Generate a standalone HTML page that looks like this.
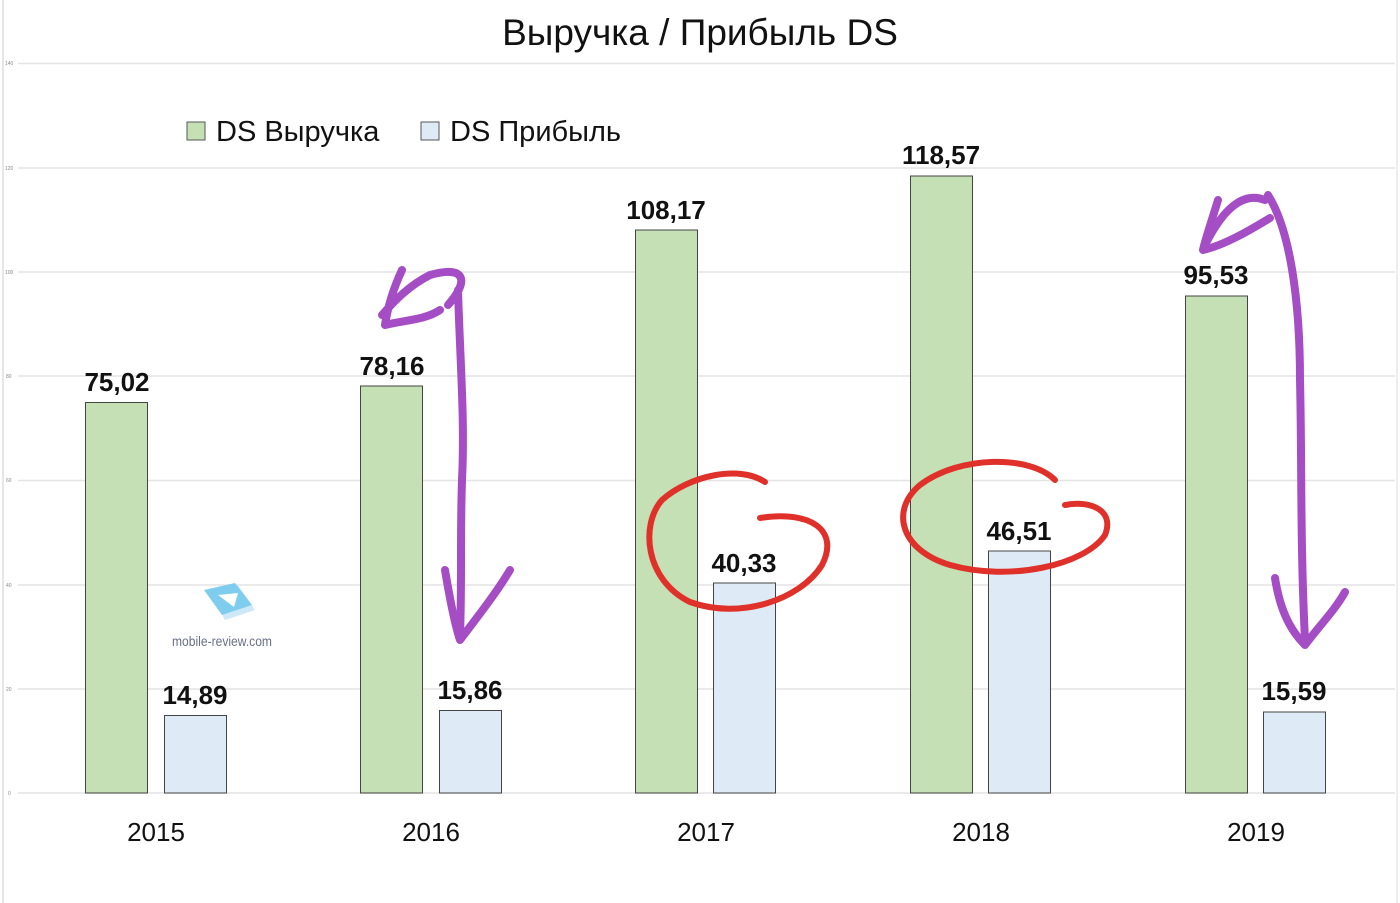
<!DOCTYPE html>
<html><head><meta charset="utf-8"><style>
body{margin:0;background:#fff}
svg{display:block}
text{font-family:"Liberation Sans","DejaVu Sans",sans-serif}
</style></head><body>
<svg width="1400" height="903" viewBox="0 0 1400 903" xmlns="http://www.w3.org/2000/svg">
<rect width="1400" height="903" fill="#fff"/>
<line x1="3" y1="0" x2="3" y2="903" stroke="#e6e6e6" stroke-width="2"/>
<line x1="1397" y1="0" x2="1397" y2="903" stroke="#eeeeee" stroke-width="2"/>
<g stroke="#e4e4e4" stroke-width="1.5">
<line x1="18" y1="63.5" x2="1395" y2="63.5"/><line x1="18" y1="168" x2="1395" y2="168"/>
<line x1="18" y1="272" x2="1395" y2="272"/><line x1="18" y1="376" x2="1395" y2="376"/>
<line x1="18" y1="480.5" x2="1395" y2="480.5"/><line x1="18" y1="585" x2="1395" y2="585"/>
<line x1="18" y1="689" x2="1395" y2="689"/><line x1="18" y1="793" x2="1395" y2="793"/>
</g>
<g font-size="5" fill="#888">
<text x="5" y="65">140</text><text x="5" y="170">120</text><text x="5" y="274">100</text>
<text x="6" y="378">80</text><text x="6" y="482">60</text><text x="6" y="587">40</text>
<text x="6" y="691">20</text><text x="8" y="795">0</text></g>
<text x="700" y="45" text-anchor="middle" font-size="37" fill="#111">Выручка / Прибыль DS</text>
<rect x="187" y="122" width="18" height="18" fill="#c5e0b4" stroke="#555"/>
<text x="216" y="141" font-size="29" fill="#111">DS Выручка</text>
<rect x="421" y="122" width="18" height="18" fill="#deebf7" stroke="#555"/>
<text x="450" y="141" font-size="29" fill="#111">DS Прибыль</text>
<g stroke="#444" stroke-width="1">
<rect x="85.5" y="402.5" width="62" height="390.5" fill="#c5e0b4"/>
<rect x="164.5" y="715.5" width="62" height="77.5" fill="#deebf7"/>
<rect x="360.5" y="386" width="62" height="407" fill="#c5e0b4"/>
<rect x="439.5" y="710.5" width="62" height="82.5" fill="#deebf7"/>
<rect x="635.5" y="230" width="62" height="563" fill="#c5e0b4"/>
<rect x="713.5" y="583" width="62" height="210" fill="#deebf7"/>
<rect x="910.5" y="176" width="62" height="617" fill="#c5e0b4"/>
<rect x="988.5" y="551" width="62" height="242" fill="#deebf7"/>
<rect x="1185.5" y="296" width="62" height="497" fill="#c5e0b4"/>
<rect x="1263.5" y="712" width="62" height="81" fill="#deebf7"/>
</g>
<g font-size="26" font-weight="bold" fill="#111" text-anchor="middle">
<text x="117" y="391">75,02</text><text x="195" y="704">14,89</text>
<text x="392" y="375">78,16</text><text x="470" y="699">15,86</text>
<text x="666" y="219">108,17</text><text x="744" y="572">40,33</text>
<text x="941" y="164">118,57</text><text x="1019" y="540">46,51</text>
<text x="1216" y="284">95,53</text><text x="1294" y="700">15,59</text>
</g>
<g font-size="26" fill="#111" text-anchor="middle">
<text x="156" y="841">2015</text><text x="431" y="841">2016</text><text x="706" y="841">2017</text>
<text x="981" y="841">2018</text><text x="1256" y="841">2019</text></g>
<g transform="translate(200,585)">
<path d="M10 8 L38 0 L55 25 L25 35 Z" fill="#cfe8f7"/>
<path d="M4 5 L35 -2 L52 20 L22 30 Z" fill="#7fcdee"/>
<path d="M18 10 L38 8 L34 22 Z" fill="#fff"/>
</g>
<text x="222" y="646" font-size="14" fill="#6a6f8a" text-anchor="middle" textLength="100" lengthAdjust="spacingAndGlyphs">mobile-review.com</text>
<g fill="none" stroke="#a44dc4" stroke-width="8" stroke-linecap="round" stroke-linejoin="round">
<path d="M448 305 C470 280 465 265 430 275 C410 285 395 300 382 315 M402 270 C395 285 388 305 385 325 M385 325 C405 320 425 320 440 310 M458 290 C460 360 465 420 462 480 C460 540 462 580 460 635"/>
<path d="M445 570 C450 600 455 625 460 640 C475 620 495 595 510 570"/>
<path d="M1265 200 C1240 190 1220 215 1205 245 M1218 200 C1212 220 1205 240 1203 250 C1225 245 1250 230 1270 218 M1268 195 C1290 230 1300 300 1300 380 C1302 460 1300 540 1305 640"/>
<path d="M1275 578 C1280 610 1290 630 1305 645 C1320 625 1335 610 1345 592"/>
</g>
<g fill="none" stroke="#e0302a" stroke-width="6" stroke-linecap="round">
<path d="M765 482 C740 465 690 475 662 500 C640 525 645 580 690 602 C740 620 800 600 822 565 C840 530 810 510 760 518"/>
<path d="M1055 480 C1030 455 960 455 920 485 C890 510 900 550 950 565 C1010 582 1085 565 1105 535 C1115 510 1090 500 1065 505"/>
</g>
</svg>
</body></html>
